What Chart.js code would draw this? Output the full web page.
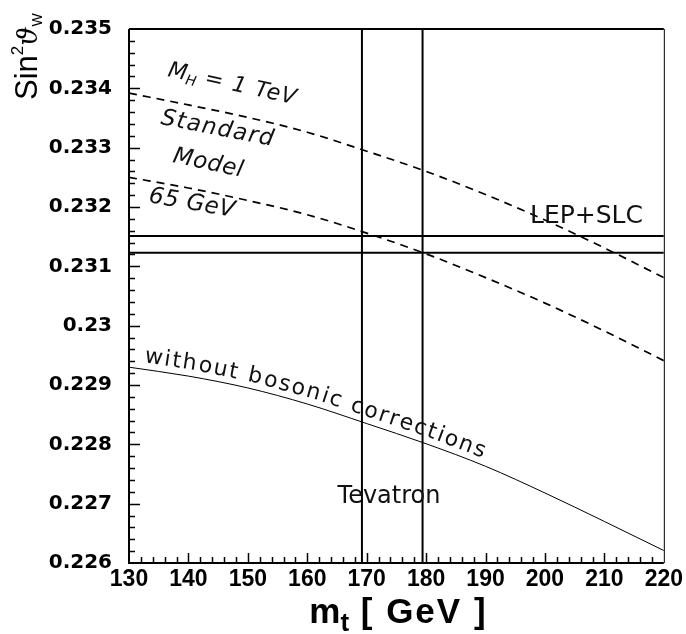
<!DOCTYPE html>
<html><head><meta charset="utf-8">
<script src="https://cdn.jsdelivr.net/npm/chart.js@4.4.1/dist/chart.umd.min.js"></script>
<style>html,body{margin:0;padding:0;background:#fff}canvas{display:block}</style>
</head><body>
<canvas id="c" width="686" height="634"></canvas>
<script>
// ---- data ----
const mt = [130, 140, 150, 160, 170, 180, 190, 200, 210, 220];
const sw2HeavyHiggs = [0.23392, 0.23372, 0.23351, 0.23326, 0.23294, 0.23260, 0.23221, 0.23178, 0.23131, 0.23081]; // M_H = 1 TeV
const sw2LightHiggs = [0.23250, 0.23232, 0.23211, 0.23187, 0.23156, 0.23121, 0.23081, 0.23038, 0.22991, 0.22941]; // M_H = 65 GeV
const sw2NoBosonic  = [0.22930, 0.22915, 0.22895, 0.22868, 0.22835, 0.22801, 0.22763, 0.22718, 0.22670, 0.22621];
const tevatronMt = [169.2, 179.4];
const lepSlcSw2 = [0.23123, 0.23151];
const xTickValues = [130, 140, 150, 160, 170, 180, 190, 200, 210, 220];
const xTickLabels = ['130', '140', '150', '160', '170', '180', '190', '200', '210', '220'];
const yTickValues = [0.226, 0.227, 0.228, 0.229, 0.230, 0.231, 0.232, 0.233, 0.234, 0.235];
const yTickLabels = ['0.226', '0.227', '0.228', '0.229', '0.23', '0.231', '0.232', '0.233', '0.234', '0.235'];
const xRange = [130, 220];
const yRange = [0.226, 0.235];

const pts = (xs, ys) => xs.map((x, i) => ({x: x, y: ys[i]}));

const vLine = v => [{x: v, y: yRange[0]}, {x: v, y: yRange[1]}];
const hLine = v => [{x: xRange[0], y: v}, {x: xRange[1], y: v}];

const datasets = [
  {data: pts(mt, sw2HeavyHiggs), borderColor: '#000', borderWidth: 1.7, borderDash: [8, 6], cubicInterpolationMode: 'monotone'},
  {data: pts(mt, sw2LightHiggs), borderColor: '#000', borderWidth: 1.7, borderDash: [8, 6], cubicInterpolationMode: 'monotone'},
  {data: pts(mt, sw2NoBosonic), borderColor: '#000', borderWidth: 1, cubicInterpolationMode: 'monotone'},
].concat(tevatronMt.map(v => ({data: vLine(v), borderColor: '#000', borderWidth: 2})))
 .concat(lepSlcSw2.map(v => ({data: hLine(v), borderColor: '#000', borderWidth: 2})));
datasets.forEach(d => { d.pointRadius = 0; d.fill = false; });

function curveY(chart, px) {
  const xs = chart.scales.x, ys = chart.scales.y;
  const v = xs.getValueForPixel(px);
  let i = 0;
  while (i < mt.length - 2 && v > mt[i + 1]) i++;
  const t = (v - mt[i]) / (mt[i + 1] - mt[i]);
  return ys.getPixelForValue(sw2NoBosonic[i] + t * (sw2NoBosonic[i + 1] - sw2NoBosonic[i]));
}

function rotText(ctx, parts, x, y, deg) {
  ctx.save();
  ctx.translate(x, y);
  ctx.rotate(deg * Math.PI / 180);
  let cx = 0;
  for (const p of parts) {
    ctx.font = p.font;
    ctx.letterSpacing = p.ls || '0px';
    ctx.fillText(p.t, cx, p.dy || 0);
    cx += ctx.measureText(p.t).width;
  }
  ctx.restore();
}

const decor = {
  id: 'decor',
  afterDraw(chart) {
    const ctx = chart.ctx, a = chart.chartArea;
    const xs = chart.scales.x, ys = chart.scales.y;
    ctx.save();
    ctx.fillStyle = '#000';
    ctx.strokeStyle = '#000';
    // frame
    ctx.lineWidth = 2;
    ctx.beginPath();
    ctx.moveTo(a.left, a.top); ctx.lineTo(a.left, a.bottom); ctx.lineTo(a.right, a.bottom);
    ctx.moveTo(a.left, a.top); ctx.lineTo(a.right, a.top);
    ctx.stroke();
    ctx.lineWidth = 1;
    ctx.beginPath(); ctx.moveTo(a.right + 0.5, a.top); ctx.lineTo(a.right + 0.5, a.bottom); ctx.stroke();
    // inward ticks
    ctx.lineWidth = 1.5;
    ctx.beginPath();
    const ny = Math.round((yRange[1] - yRange[0]) / 0.0002);
    for (let i = 1; i < ny; i++) {
      const v = yRange[0] + i * 0.0002;
      const p = Math.round(ys.getPixelForValue(v)) + 0.5;
      const len = i % 5 === 0 ? 11 : 6;
      ctx.moveTo(a.left, p); ctx.lineTo(a.left + len, p);
    }
    const nx = Math.round((xRange[1] - xRange[0]) / 2);
    for (let i = 1; i < nx; i++) {
      const v = xRange[0] + i * 2;
      const p = Math.round(xs.getPixelForValue(v)) + 0.5;
      const len = i % 5 === 0 ? 10 : 6;
      ctx.moveTo(p, a.bottom); ctx.lineTo(p, a.bottom - len);
    }
    ctx.stroke();

    // x title  m_t [ GeV ]
    ctx.textBaseline = 'alphabetic';
    ctx.textAlign = 'left';
    const f1 = 'bold 35px "Liberation Sans", Arial, sans-serif';
    const f2 = 'bold 26px "Liberation Sans", Arial, sans-serif';
    ctx.font = f1; const wm = ctx.measureText('m').width;
    ctx.font = f2; const wt = ctx.measureText('t').width;
    ctx.font = f1; ctx.letterSpacing = '2px'; const wr = ctx.measureText(' [ GeV ]').width;
    ctx.letterSpacing = '0px';
    let x0 = (a.left + a.right) / 2 - (wm + wt + wr) / 2 + 2;
    const by = 623;
    ctx.font = f1; ctx.fillText('m', x0, by);
    ctx.font = f2; ctx.fillText('t', x0 + wm, by + 8);
    ctx.font = f1; ctx.letterSpacing = '2px'; ctx.fillText(' [ GeV ]', x0 + wm + wt, by);
    ctx.letterSpacing = '0px';

    // y title  Sin^2 θ_W
    rotText(ctx, [
      {t: 'Sin', font: '31px "Liberation Sans", Arial, sans-serif'},
      {t: '2', font: '17px "Liberation Sans", Arial, sans-serif', dy: -14},
      {t: '\u03D1', font: 'italic 27px "DejaVu Serif", serif'},
      {t: 'W', font: '14px "Liberation Sans", Arial, sans-serif', dy: 5},
    ], 37, 100, -90);

    // annotations
    ctx.fillStyle = '#111';
    const ann = '"DejaVu Sans", sans-serif';
    rotText(ctx, [
      {t: 'M', font: 'oblique 22px ' + ann},
      {t: 'H', font: 'oblique 14px ' + ann, dy: 4},
      {t: ' = 1 TeV', font: 'oblique 22px ' + ann, ls: '1.2px'},
    ], 167, 76, 12.5);
    rotText(ctx, [{t: 'Standard', font: 'oblique 23px ' + ann, ls: '1.3px'}], 160, 124, 11);
    rotText(ctx, [{t: 'Model', font: 'oblique 23px ' + ann, ls: '0.5px'}], 172, 162, 12);
    rotText(ctx, [{t: '65 GeV', font: 'oblique 23px ' + ann, ls: '0.5px'}], 148, 202, 10);

    ctx.font = '25px ' + ann;
    ctx.fillText('LEP+SLC', 530, 223);
    ctx.textAlign = 'center';
    ctx.font = '24px ' + ann;
    ctx.fillText('Tevatron', 389, 503);
    ctx.textAlign = 'left';

    // curved text following the "no bosonic" curve
    const txt = 'without bosonic corrections';
    ctx.font = '22px ' + ann;
    let px = 143;
    const off = 7, sp = 1.8;
    for (const ch of txt) {
      const ang = Math.atan2(curveY(chart, px + 6) - curveY(chart, px - 6), 12);
      const w = ctx.measureText(ch).width;
      const bx = px + off * Math.sin(ang);
      const byy = curveY(chart, px) - off * Math.cos(ang);
      ctx.save();
      ctx.translate(bx, byy);
      ctx.rotate(ang);
      ctx.fillText(ch, 0, 0);
      ctx.restore();
      px += (w + sp) * Math.cos(ang);
    }
    ctx.restore();
  }
};

new Chart(document.getElementById('c'), {
  type: 'line',
  data: {datasets: datasets},
  plugins: [decor],
  options: {
    responsive: false,
    animation: false,
    devicePixelRatio: 1,
    layout: {padding: {top: 16, right: 22, left: 0, bottom: 0}},
    plugins: {legend: {display: false}, tooltip: {enabled: false}},
    scales: {
      x: {
        type: 'linear', min: xRange[0], max: xRange[1],
        afterBuildTicks: s => { s.ticks = xTickValues.map(v => ({value: v})); },
        afterFit: s => { s.height = 71; },
        grid: {display: false, drawTicks: false},
        border: {display: false},
        ticks: {
          padding: 3, color: '#000', maxRotation: 0, autoSkip: false,
          font: {family: '"Liberation Sans", Arial, sans-serif', size: 23, weight: 'bold'},
          callback: v => xTickLabels[xTickValues.indexOf(v)]
        }
      },
      y: {
        type: 'linear', min: yRange[0], max: yRange[1],
        afterBuildTicks: s => { s.ticks = yTickValues.map(v => ({value: v})); },
        afterFit: s => { s.width = 129; },
        grid: {display: false, drawTicks: false},
        border: {display: false},
        ticks: {
          padding: 17, color: '#000', autoSkip: false,
          font: {family: '"DejaVu Sans", sans-serif', size: 20, weight: 'bold'},
          callback: (v, i) => yTickLabels[i]
        }
      }
    }
  }
});
</script>
</body></html>
